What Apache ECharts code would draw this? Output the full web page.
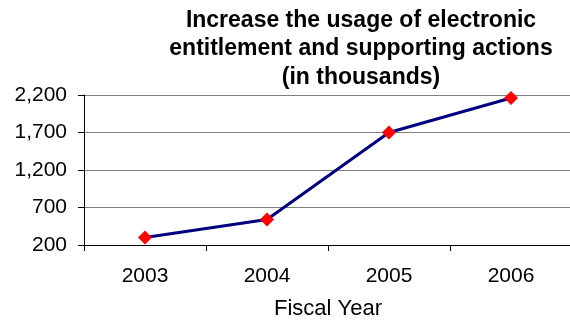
<!DOCTYPE html>
<html>
<head>
<meta charset="utf-8">
<script src="https://cdn.jsdelivr.net/npm/echarts@6/dist/echarts.min.js"></script>
<style>
html,body{margin:0;padding:0;background:#fff;}
#c{width:570px;height:324px;}
</style>
</head>
<body>
<div id="c"></div>
<script>
var categories = ['2003', '2004', '2005', '2006'];
var values = [300, 540, 1700, 2160];
var yTicks = [200, 700, 1200, 1700, 2200];
var titleText = 'Increase the usage of electronic\nentitlement and supporting actions\n(in thousands)';
var xName = 'Fiscal Year';

var base = yTicks[0];
var step = yTicks[1] - yTicks[0];
var font = '"Liberation Sans", Arial, sans-serif';

var chart = echarts.init(document.getElementById('c'), null, {renderer: 'canvas'});
chart.setOption({
  animation: false,
  backgroundColor: '#ffffff',
  title: {
    text: titleText,
    left: 356,
    top: 1,
    textAlign: 'center',
    textStyle: {fontFamily: font, fontSize: 23, fontWeight: 'bold', color: '#000', lineHeight: 28.5}
  },
  grid: {left: 84, right: -2, top: 95, bottom: 79, containLabel: false, outerBoundsMode: 'none'},
  xAxis: {
    type: 'category',
    data: categories,
    boundaryGap: true,
    name: xName,
    nameLocation: 'middle',
    nameGap: 53,
    nameTextStyle: {fontFamily: font, fontSize: 22, color: '#000'},
    axisLine: {show: true, lineStyle: {color: '#000', width: 1}},
    axisTick: {show: true, length: 6, lineStyle: {color: '#000'}},
    axisLabel: {fontFamily: font, fontSize: 21, color: '#000', margin: 21},
    splitLine: {show: false}
  },
  yAxis: {
    type: 'value',
    min: 0,
    max: yTicks[yTicks.length - 1] - base,
    interval: step,
    axisLine: {show: true, lineStyle: {color: '#000', width: 1}},
    axisTick: {show: true, length: 6, lineStyle: {color: '#000'}},
    axisLabel: {
      fontFamily: font, fontSize: 21, color: '#000', margin: 17,
      formatter: function (v) { return (v + base).toLocaleString('en-US'); }
    },
    splitLine: {show: true, lineStyle: {color: '#808080', width: 1}}
  },
  series: [{
    type: 'line',
    data: values.map(function (v) { return v - base; }),
    lineStyle: {color: '#000080', width: 3},
    itemStyle: {color: '#ff0000'},
    symbol: 'diamond',
    symbolSize: 14,
    showSymbol: true
  }]
});
</script>
</body>
</html>
